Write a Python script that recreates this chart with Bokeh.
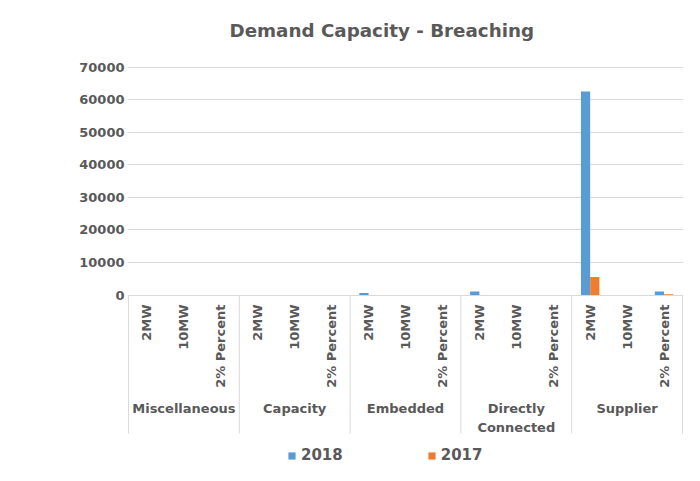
import math
from bokeh.plotting import figure
from bokeh.models import (FactorRange, Range1d, FixedTicker, ColumnDataSource,
                          Legend, LegendItem, Title, NumeralTickFormatter)
from bokeh.transform import dodge
from bokeh.core.properties import value
from bokeh.embed import file_html
from bokeh.resources import INLINE

# ---------------- data ----------------
groups = ["Miscellaneous", "Capacity", "Embedded", "Directly Connected", "Supplier"]
group_labels = ["Miscellaneous", "Capacity", "Embedded", "Directly\nConnected", "Supplier"]
subs = ["2MW", "10MW", "2% Percent"]
series = ["2018", "2017"]
values_2018 = [0, 0, 0, 0, 0, 0, 600, 0, 0, 1100, 0, 0, 62500, 0, 1100]
values_2017 = [0, 0, 0, 0, 0, 0, 0, 0, 0, 0, 0, 0, 5500, 0, 250]
y_ticks = [0, 10000, 20000, 30000, 40000, 50000, 60000, 70000]
title_text = "Demand Capacity - Breaching"

# ---------------- style / layout ----------------
TXT = "#595959"
GRID = "#D9D9D9"
C2018 = "#5B9BD5"
C2017 = "#ED7D31"
FONT_NAME = "DejaVu Sans"
FONT = value(FONT_NAME)

W, H = 700, 481
zero_px, top_px = 294.5, 66.7
frame_left, frame_right = 127, 683
frame_top, frame_bottom = 65, 472
scale = (zero_px - top_px) / max(y_ticks)          # px per unit
y_end = (zero_px - frame_top) / scale
y_start = -(frame_bottom - zero_px) / scale
sub_label_y = -(304 - zero_px) / scale
group_label_y = -(400 - zero_px) / scale
sep_bottom_y = -(433 - zero_px) / scale

factors = [(g, s) for g in groups for s in subs]
n_sub = len(subs)
pad = len(factors) / (frame_right - frame_left - 2.0)

x_range = FactorRange(*factors, group_padding=0, subgroup_padding=0, factor_padding=0,
                      range_padding=pad, range_padding_units="absolute")

p = figure(width=W, height=H, x_range=x_range, y_range=Range1d(y_start, y_end),
           output_backend="svg", toolbar_location=None, x_axis_location=None,
           min_border_left=frame_left, min_border_right=W - frame_right,
           min_border_top=frame_top, min_border_bottom=H - frame_bottom)
p.outline_line_color = None
p.background_fill_color = "white"
p.border_fill_color = "white"

# invisible spacer between the frame and the title
p.add_layout(Title(text=" ", text_font_size="1px", standoff=17), "above")
p.title = Title(text=title_text, align="left", offset=102, standoff=10,
                text_font=FONT_NAME, text_font_size="18.3px", text_font_style="bold",
                text_color=TXT)

# grid & axis
p.xgrid.visible = False
p.ygrid.ticker = FixedTicker(ticks=y_ticks)
p.ygrid.grid_line_color = GRID
p.ygrid.grid_line_width = 1
ax = p.yaxis[0]
ax.ticker = FixedTicker(ticks=y_ticks)
ax.formatter = NumeralTickFormatter(format="0")
ax.axis_line_color = None
ax.major_tick_line_color = None
ax.minor_tick_line_color = None
ax.major_tick_out = 0
ax.major_tick_in = 0
ax.major_label_standoff = 3
ax.major_label_text_font = FONT_NAME
ax.major_label_text_font_size = "13px"
ax.major_label_text_font_style = "bold"
ax.major_label_text_color = TXT

# separators of the category axis
sep_x = [i * n_sub for i in range(len(groups) + 1)]
p.segment(x0=sep_x, y0=[0] * len(sep_x), x1=sep_x, y1=[sep_bottom_y] * len(sep_x),
          line_color=GRID, line_width=1)

# bars
src = ColumnDataSource(dict(x=factors, v2018=values_2018, v2017=values_2017))
bw = 0.25
r1 = p.vbar(x=dodge("x", -bw / 2, range=p.x_range), top="v2018", width=bw, bottom=0,
            source=src, fill_color=C2018, line_color=None)
r2 = p.vbar(x=dodge("x", bw / 2, range=p.x_range), top="v2017", width=bw, bottom=0,
            source=src, fill_color=C2017, line_color=None)

# category labels
p.text(x=factors, y=[sub_label_y] * len(factors), text=[s for g in groups for s in subs],
       angle=math.pi / 2, text_align="right", text_baseline="middle",
       text_font=FONT, text_font_size="13px", text_font_style="bold", text_color=TXT)
p.text(x=groups, y=[group_label_y] * len(groups), text=group_labels,
       text_align="center", text_baseline="top", text_line_height=1.3,
       text_font=FONT, text_font_size="13px", text_font_style="bold", text_color=TXT)

legend = Legend(items=[LegendItem(label=series[0], renderers=[r1]),
                       LegendItem(label=series[1], renderers=[r2])],
                orientation="horizontal", location=(160, 8), padding=0, margin=0,
                spacing=84, glyph_width=9, glyph_height=9, label_height=9,
                label_standoff=5, label_text_font=FONT_NAME,
                label_text_font_size="15px", label_text_font_style="bold",
                label_text_color=TXT, border_line_color=None, background_fill_alpha=0)
p.add_layout(legend)

open("out.html", "w").write(file_html(p, INLINE))
